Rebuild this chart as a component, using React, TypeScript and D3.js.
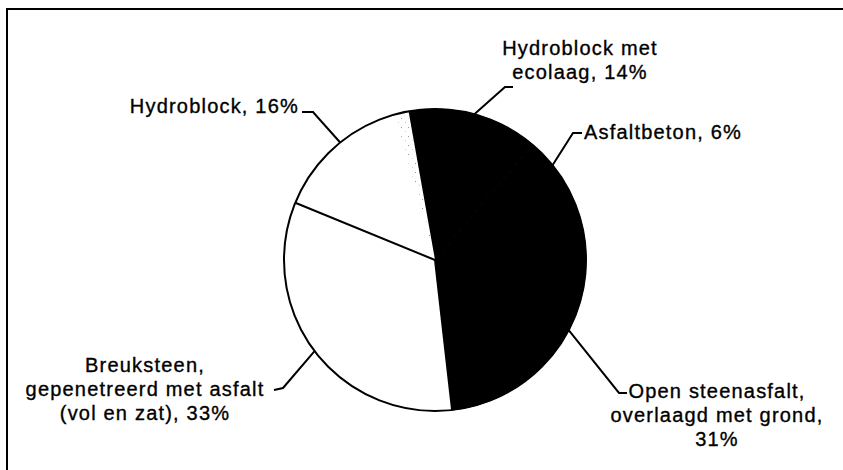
import React from 'react';
import * as d3 from 'd3';

// bekleding types, clockwise from the top
const categories = [
  'Hydroblock met ecolaag',
  'Asfaltbeton',
  'Open steenasfalt, overlaagd met grond',
  'Breuksteen, gepenetreerd met asfalt (vol en zat)',
  'Hydroblock',
];
const shares = [14, 6, 31, 33, 16];
const fills = ['#000', '#000', '#000', '#fff', '#fff'];
const labelLines = [
  ['Hydroblock met', 'ecolaag, 14%'],
  ['Asfaltbeton, 6%'],
  ['Open steenasfalt,', 'overlaagd met grond,', '31%'],
  ['Breuksteen,', 'gepenetreerd met asfalt', '(vol en zat), 33%'],
  ['Hydroblock, 16%'],
];

// label placement: elbow point, end of leader, text anchor point, alignment
const labelLayout = [
  { elbow: [505, 87], end: [513, 87], tx: 580, ty: 55, anchor: 'middle' },
  { elbow: [573, 133], end: [582, 133], tx: 584, ty: 139, anchor: 'start' },
  { elbow: [619, 393], end: [627, 393], tx: 717, ty: 398, anchor: 'middle' },
  { elbow: [283, 388], end: [274, 390], tx: 145, ty: 372, anchor: 'middle' },
  { elbow: [313, 112], end: [302, 112], tx: 299, ty: 113, anchor: 'end' },
];

export default function App() {
  const width = 843;
  const height = 470;
  const cx = 435;
  const cy = 260;
  const radius = 151;
  const lineHeight = 24;

  const data = categories.map((name, i) => ({ name, value: shares[i], i }));

  const pie = d3.pie<any>()
    .value((d) => d.value)
    .sort(null)
    .startAngle((-10.1 * Math.PI) / 180)
    .endAngle((349.9 * Math.PI) / 180);
  const arcs = pie(data);
  const arc = d3.arc<any>().innerRadius(0).outerRadius(radius);

  // scan stipple in the Hydroblock slice, next to the black wedge
  const last = arcs[arcs.length - 1];
  const stipple = d3.arc<any>()({
    innerRadius: 8,
    outerRadius: radius - 4,
    startAngle: last.endAngle - 0.09,
    endAngle: last.endAngle - 0.01,
  });

  return (
    <svg width={width} height={height} style={{ position: 'absolute', left: 0, top: 0 }}>
      <defs>
        <pattern id="dots" width="7" height="9" patternUnits="userSpaceOnUse">
          <rect x="1" y="2" width="1" height="1" fill="#999" />
          <rect x="5" y="6" width="1" height="1" fill="#ccc" />
        </pattern>
      </defs>
      <rect x={0} y={0} width={width} height={height} fill="#fff" />
      <path d={`M7,${height} L7,9 L${width},9`} fill="none" stroke="#000" strokeWidth={2} />
      <g transform={`translate(${cx},${cy})`}>
        {arcs.map((a) => (
          <path
            key={a.data.name}
            d={arc(a) || ''}
            fill={fills[a.data.i]}
            stroke={fills[a.data.i] === '#000' ? '#000' : 'none'}
            strokeWidth={1}
          />
        ))}
        <path d={stipple || ''} fill="url(#dots)" />
        {arcs.filter((a) => fills[a.data.i] === '#fff').map((a) => {
          const ang = a.startAngle;
          return (
            <line
              key={`b${a.data.i}`}
              x1={0}
              y1={0}
              x2={radius * Math.sin(ang)}
              y2={-radius * Math.cos(ang)}
              stroke="#000"
              strokeWidth={2}
            />
          );
        })}
        <circle r={radius} fill="none" stroke="#000" strokeWidth={2} />
      </g>
      <g
        fontFamily="'Liberation Sans', Arial, sans-serif"
        fontSize={20}
        letterSpacing={1.2}
        fill="#000"
        stroke="#000"
        strokeWidth={0.35}
      >
        {arcs.map((a) => {
          const mid = (a.startAngle + a.endAngle) / 2;
          const sx = cx + radius * Math.sin(mid);
          const sy = cy - radius * Math.cos(mid);
          const L = labelLayout[a.data.i];
          return (
            <g key={`l${a.data.i}`}>
              <polyline
                points={`${sx},${sy} ${L.elbow[0]},${L.elbow[1]} ${L.end[0]},${L.end[1]}`}
                fill="none"
                stroke="#000"
                strokeWidth={2}
              />
              <text x={L.tx} y={L.ty} textAnchor={L.anchor}>
                {labelLines[a.data.i].map((t, k) => (
                  <tspan key={t} x={L.tx} y={L.ty + k * lineHeight}>{t}</tspan>
                ))}
              </text>
            </g>
          );
        })}
      </g>
    </svg>
  );
}
